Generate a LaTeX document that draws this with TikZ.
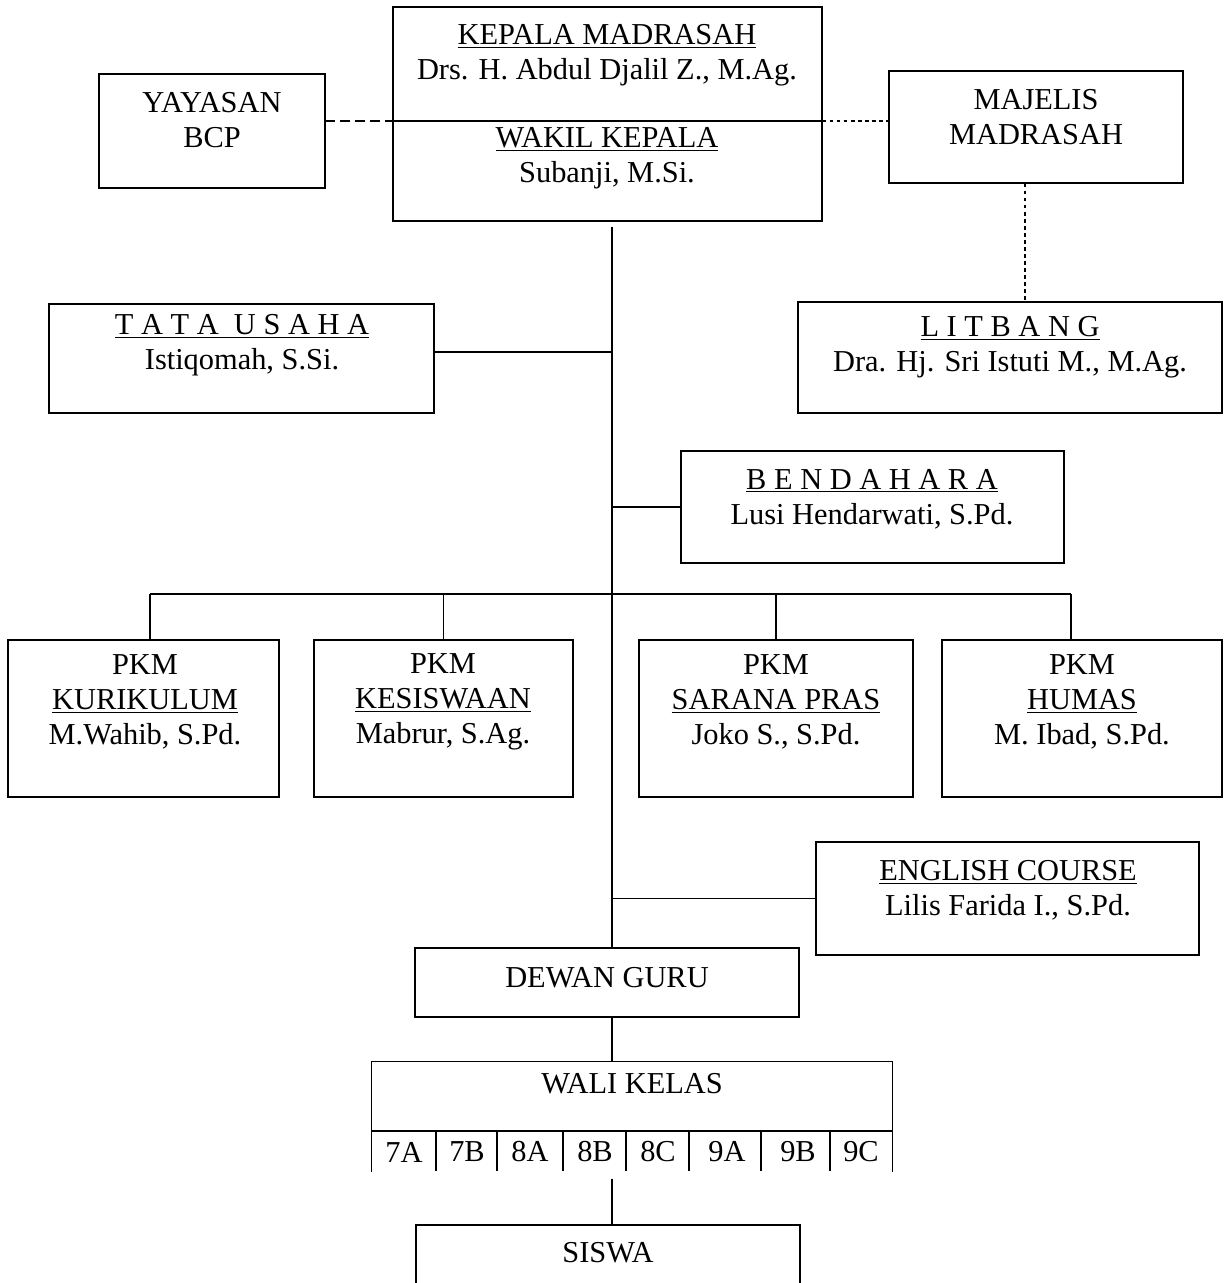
\documentclass[tikz,border=0pt]{standalone}
\usepackage{fontspec}
\setmainfont{Liberation Serif}
\usetikzlibrary{fit}
\tikzset{box/.style={draw, inner sep=0pt}, txt/.style={align=center, inner sep=0pt, font=\fontsize{17.3}{20}\selectfont}, dashlink/.style={dash pattern=on 5.5pt off 3pt}, dotlink/.style={dash pattern=on 2.2pt off 1.8pt}}

\begin{document}
\begin{tikzpicture}[x=0.02cm, y=-0.02cm, line width=0.6pt]
  \useasboundingbox (0,0) rectangle (1225,1283);
  \clip (0,0) rectangle (1225,1283);
  \coordinate (spine) at (612,0);
  \coordinate (split) at (607,121);
  \coordinate (mlink) at (1025,0);
  \coordinate (tatajoin) at (612,352);
  \coordinate (busL) at (150,594);
  \coordinate (busR) at (1071,594);
  \coordinate (cellrow) at (632,1131);

  \node[box, fit={(393,7) (822,221)}] (kepala) {};
  \node[txt] (kepalaT) at (607,55) {\underline{KEPALA MADRASAH}\\Drs. H. Abdul Djalil Z., M.Ag.};
  \node[txt] (wakilT) at (607,158) {\underline{WAKIL KEPALA}\\Subanji, M.Si.};
  \draw (kepala.west |- split) -- (kepala.east |- split);

  \node[box, fit={(99,74) (325,188)}] (yayasan) {};
  \node[txt] (yayasanT) at (212,120) {YAYASAN\\BCP};
  \node[box, fit={(889,71) (1183,183)}] (majelis) {};
  \node[txt] (majelisT) at (1036,117) {MAJELIS\\MADRASAH};
  \node[box, fit={(798,302) (1222,413)}] (litbang) {};
  \node[txt] (litbangT) at (1010,347) {\underline{L I T B A N G}\\Dra. Hj. Sri Istuti M., M.Ag.};
  \node[box, fit={(49,304) (434,413)}] (tata) {};
  \node[txt] (tataT) at (242,345) {\underline{T A T A \ U S A H A}\\Istiqomah, S.Si.};
  \node[box, fit={(681,451) (1064,563)}] (bendahara) {};
  \node[txt] (bendaharaT) at (872,499) {\underline{B E N D A H A R A}\\Lusi Hendarwati, S.Pd.};

  \node[box, fit={(8,640) (279,797)}] (kurikulum) {};
  \node[txt] (kurikulumT) at (145,702) {PKM\\\underline{KURIKULUM}\\M.Wahib, S.Pd.};
  \node[box, fit={(314,640) (573,797)}] (kesiswaan) {};
  \node[txt] (kesiswaanT) at (443,702) {PKM\\\underline{KESISWAAN}\\Mabrur, S.Ag.};
  \node[box, fit={(639,640) (913,797)}] (sarana) {};
  \node[txt] (saranaT) at (776,702) {PKM\\\underline{SARANA PRAS}\\Joko S., S.Pd.};
  \node[box, fit={(942,640) (1222,797)}] (humas) {};
  \node[txt] (humasT) at (1082,702) {PKM\\\underline{HUMAS}\\M. Ibad, S.Pd.};

  \node[box, fit={(816,842) (1199,955)}] (english) {};
  \node[txt] (englishT) at (1008,890) {\underline{ENGLISH COURSE}\\Lilis Farida I., S.Pd.};
  \node[box, fit={(415,948) (799,1017)}] (dewan) {};
  \node[txt] (dewanT) at (607,978) {DEWAN GURU};

  \node[inner sep=0pt, fit={(372,1062) (892,1171)}] (wali) {};
  \node[txt] (waliT) at (632,1084) {WALI KELAS};
  \draw[line width=0.9pt] (wali.south west) -- (wali.north west) -- (wali.north east) -- (wali.south east);
  \draw[line width=0.9pt] (wali.west |- cellrow) -- (wali.east |- cellrow);
  \foreach \x in {436,497,563,626,689,761,830} \draw[line width=0.9pt] (\x,1131) -- (\x,1171);
  \foreach \c/\x in {7A/404,7B/467,8A/530,8B/595,8C/658,9A/727,9B/798,9C/861}
    \node[txt] (c\c) at (\x,1152) {\c};

  \node[box, fit={(416,1225) (800,1320)}] (siswa) {};
  \node[txt] (siswaT) at (608,1253) {SISWA};

  \draw[dashlink] (yayasan.east |- split) -- (kepala.west |- split);
  \draw[dotlink] (kepala.east |- split) -- (majelis.west |- split);
  \draw[dotlink] (majelis.south -| mlink) -- (litbang.north -| mlink);
  \draw[shorten <=3pt] (kepala.south -| spine) -- (dewan.north -| spine);
  \draw (tata.east |- tatajoin) -- (tatajoin);
  \draw (bendahara.west) -- (bendahara.west -| spine);
  \draw (english.west) -- (english.west -| spine);
  \draw (busL) -- (busR);
  \draw (busL) -- (kurikulum.north -| busL);
  \draw (kesiswaan.north |- busL) -- (kesiswaan.north);
  \draw (sarana.north |- busL) -- (sarana.north);
  \draw (busR) -- (humas.north -| busR);
  \draw (dewan.south -| spine) -- (wali.north -| spine);
  \draw[shorten <=4pt] (wali.south -| spine) -- (siswa.north -| spine);
\end{tikzpicture}
\end{document}
